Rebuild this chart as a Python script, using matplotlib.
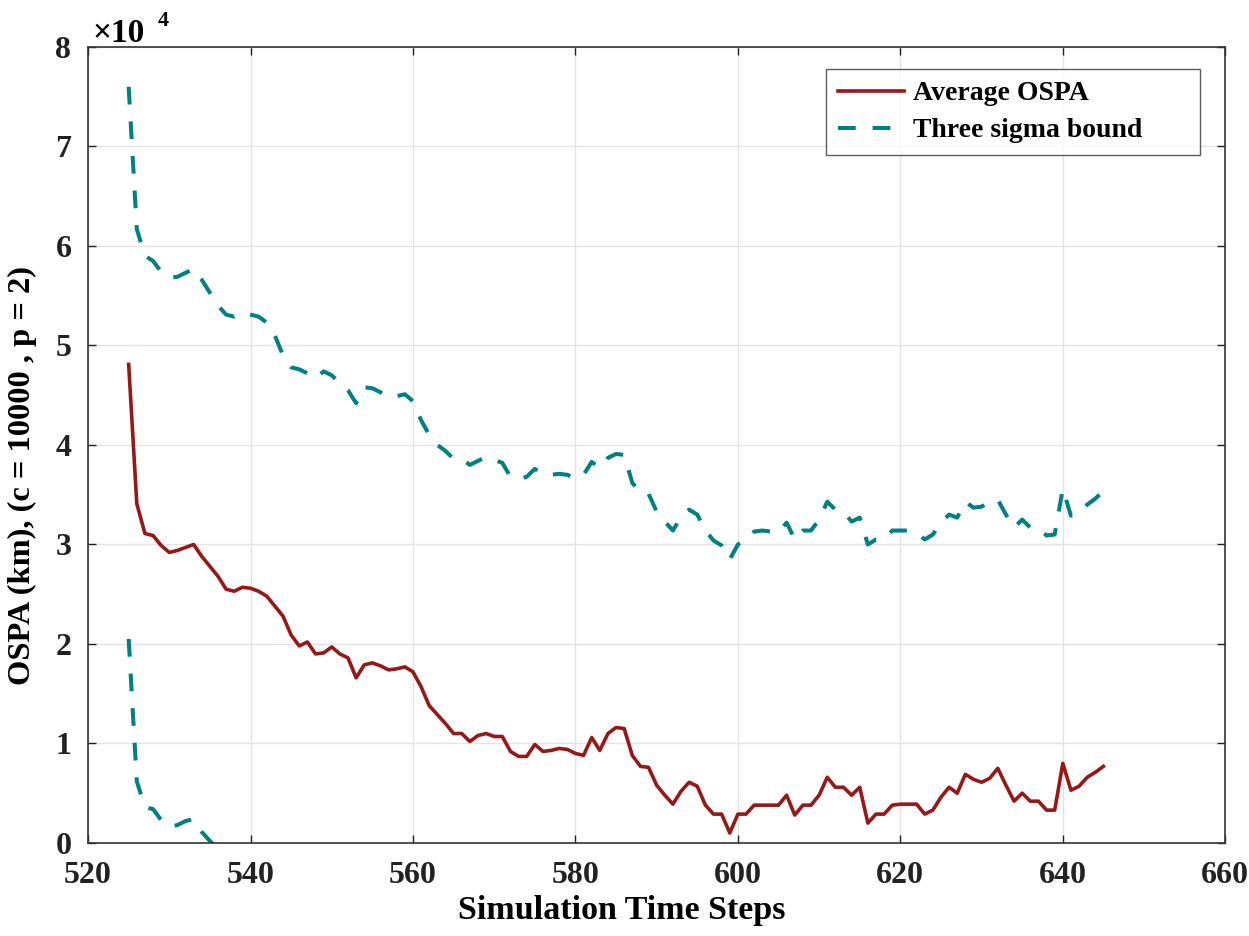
import matplotlib.pyplot as plt
import numpy as np

# Simulation time steps (x axis)
steps = np.arange(525, 646)

# Average OSPA, in units of 1e4 km
ospa = [4.81, 3.41, 3.11, 3.09, 2.99, 2.92, 2.94, 2.97, 3.00, 2.88,
        2.78, 2.68, 2.55, 2.53, 2.57, 2.56, 2.53, 2.48, 2.38, 2.28,
        2.09, 1.98, 2.02, 1.90, 1.91, 1.97, 1.90, 1.86, 1.66, 1.79,
        1.81, 1.78, 1.74, 1.75, 1.77, 1.72, 1.57, 1.38, 1.29, 1.20,
        1.10, 1.10, 1.02, 1.08, 1.10, 1.07, 1.07, 0.92, 0.87, 0.87,
        0.99, 0.92, 0.93, 0.95, 0.94, 0.90, 0.88, 1.06, 0.93, 1.10,
        1.16, 1.15, 0.88, 0.77, 0.76, 0.58, 0.48, 0.39, 0.52, 0.61,
        0.57, 0.38, 0.29, 0.29, 0.10, 0.29, 0.29, 0.38, 0.38, 0.38,
        0.38, 0.48, 0.28, 0.38, 0.38, 0.48, 0.66, 0.56, 0.56, 0.48,
        0.56, 0.20, 0.29, 0.29, 0.38, 0.39, 0.39, 0.39, 0.29, 0.33,
        0.46, 0.56, 0.50, 0.69, 0.64, 0.61, 0.65, 0.75, 0.58, 0.42,
        0.50, 0.42, 0.42, 0.33, 0.33, 0.80, 0.53, 0.57, 0.66, 0.71,
        0.77]

# Upper three sigma bound, in units of 1e4 km
upper = [7.60, 6.17, 5.90, 5.85, 5.74, 5.68, 5.69, 5.73, 5.77, 5.66,
         5.53, 5.40, 5.31, 5.29, 5.33, 5.31, 5.29, 5.23, 5.10, 4.90,
         4.78, 4.76, 4.72, 4.67, 4.74, 4.70, 4.62, 4.55, 4.42, 4.58,
         4.57, 4.53, 4.48, 4.49, 4.51, 4.44, 4.25, 4.10, 4.00, 3.94,
         3.86, 3.86, 3.80, 3.84, 3.88, 3.85, 3.82, 3.68, 3.66, 3.68,
         3.76, 3.70, 3.70, 3.71, 3.70, 3.66, 3.70, 3.83, 3.77, 3.87,
         3.91, 3.90, 3.62, 3.52, 3.51, 3.33, 3.23, 3.14, 3.28, 3.35,
         3.30, 3.14, 3.04, 2.99, 2.85, 3.00, 3.04, 3.13, 3.14, 3.13,
         3.12, 3.22, 3.05, 3.14, 3.14, 3.25, 3.43, 3.35, 3.33, 3.23,
         3.27, 3.00, 3.05, 3.05, 3.14, 3.14, 3.14, 3.12, 3.05, 3.10,
         3.22, 3.30, 3.27, 3.43, 3.37, 3.38, 3.43, 3.45, 3.30, 3.17,
         3.25, 3.17, 3.17, 3.09, 3.10, 3.56, 3.29, 3.32, 3.40, 3.46,
         3.54]

# Lower three sigma bound (only the part above zero is visible)
lower_steps = np.arange(525, 538)
lower = [2.05, 0.62, 0.36, 0.34, 0.23, 0.16, 0.18, 0.22, 0.24, 0.11,
         0.02, -0.06, -0.18]

serif = ['Liberation Serif', 'DejaVu Serif']
plt.rcParams['font.family'] = serif
plt.rcParams['font.weight'] = 'bold'

fig = plt.figure(figsize=(12.49, 9.36), dpi=100)
ax = fig.add_axes([0.0705, 0.0994, 0.9105, 0.8504])

red = '#961818'
teal = '#008080'
dash = (0, (4.4, 4.2))
ax.plot(steps, ospa, color=red, lw=2.6, label='Average OSPA')
ax.plot(steps, upper, color=teal, lw=2.9, ls=dash, label='Three sigma bound')
ax.plot(lower_steps, lower, color=teal, lw=2.9, ls=dash)

ax.set_xlim(520, 660)
ax.set_ylim(0, 8)
ax.set_xticks(np.arange(520, 661, 20))
ax.set_yticks(np.arange(0, 9, 1))
ax.grid(True, color='#e3e3e3', lw=1.0)
ax.set_axisbelow(True)
ax.tick_params(direction='in', length=6, width=1, top=True, right=True,
               labelsize=23, colors='#222222')
ax.tick_params(axis='x', pad=13)
ax.tick_params(axis='y', pad=12)
for s in ax.spines.values():
    s.set_color('#333333')
    s.set_linewidth(1.2)

ax.set_xlabel('Simulation Time Steps', fontsize=24.5, fontweight='bold')
ax.set_ylabel('OSPA (km), (c = 10000 , p = 2)', fontsize=23.4, fontweight='bold')
ax.xaxis.set_label_coords(0.469, -0.066)
ax.yaxis.set_label_coords(-0.045, 0.462)

# exponent label like MATLAB
ax.text(0.0035, 1.006, '×10', transform=ax.transAxes, fontsize=24,
        fontweight='bold', ha='left', va='baseline')
ax.text(0.061, 1.026, '4', transform=ax.transAxes, fontsize=16,
        fontweight='bold', ha='left', va='baseline')

leg = ax.legend(loc='upper left', bbox_to_anchor=(0.649, 0.871, 0.329, 0.101),
                mode='expand', borderaxespad=0, fontsize=20, frameon=True,
                fancybox=False, handlelength=2.4, handletextpad=0.3,
                borderpad=0.42, labelspacing=0.42)
leg.get_frame().set_edgecolor('#333333')
leg.get_frame().set_linewidth(1.0)
for t in leg.get_texts():
    t.set_fontweight('bold')

fig.savefig('out.png', dpi=100)
